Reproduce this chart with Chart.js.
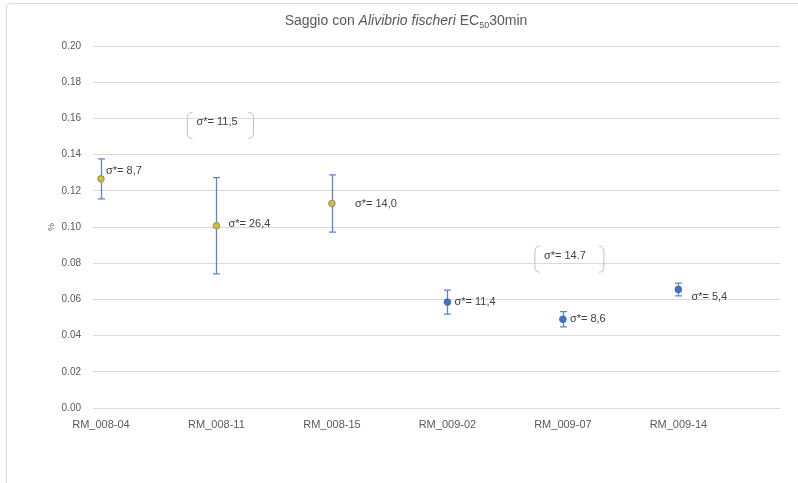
<!DOCTYPE html>
<html>
<head>
<meta charset="utf-8">
<script src="https://cdn.jsdelivr.net/npm/chart.js@4.4.1/dist/chart.umd.min.js"></script>
<style>
  html, body { margin: 0; padding: 0; background: #ffffff; }
  #wrap { position: relative; width: 798px; height: 483px; overflow: hidden; }
  #frame { position: absolute; left: 6px; top: 3px; width: 830px; height: 540px;
           border: 1px solid #d9d9d9; border-radius: 4px; box-sizing: border-box; }
  #c { position: absolute; left: 0; top: 0; }
</style>
</head>
<body>
<div id="wrap">
  <div id="frame"></div>
  <canvas id="c" width="798" height="483"></canvas>
</div>
<script>
// Samples tested
const categories = ['RM_008-04', 'RM_008-11', 'RM_008-15', 'RM_009-02', 'RM_009-07', 'RM_009-14'];
// Batch each sample belongs to (0 = RM_008, 1 = RM_009)
const batch = [0, 0, 0, 1, 1, 1];
// Mean EC50 (%) per sample
const meanEC50 = [0.1266, 0.1007, 0.113, 0.0585, 0.049, 0.0655];
// Coefficient of variation per sample (%), as printed beside each point
const cvPercent = [8.7, 26.4, 14.0, 11.4, 8.6, 5.4];
const cvText = ['8,7', '26,4', '14,0', '11,4', '8,6', '5,4'];
// Coefficient of variation per batch (%), as printed in the brackets
const batchCvText = ['11,5', '14.7'];
// Value axis ticks
const yTicks = [0, 0.02, 0.04, 0.06, 0.08, 0.10, 0.12, 0.14, 0.16, 0.18, 0.20];

// ---- styling / placement (not data) ----
const FONT = '"Liberation Sans", Arial, sans-serif';
const batchFill = ['#cdbd45', '#4472c4'];
const batchEdge = ['#8f8f55', '#3a66b8'];
const errColor = '#5d86c9';
// label offsets from each point (px)
const labelOffset = [[5, -8], [12, -2], [23, 0], [7, 0], [7, 0], [13, 8]];
// bracket callouts: anchored at a category index and value, offset in px
const bracketAnchor = [
  { cat: 1, y: 0.16,  dx: -29, dy: -6, w: 66, h: 26 },
  { cat: 4, y: 0.08,  dx: -28, dy: -17, w: 69, h: 26 }
];

const points = categories.map((c, i) => ({ x: i + 1, y: meanEC50[i] }));
const halfErr = meanEC50.map((m, i) => m * cvPercent[i] / 100);

const errorBars = {
  id: 'errorBars',
  beforeDatasetsDraw(chart) {
    const { ctx, scales: { x, y } } = chart;
    ctx.save();
    ctx.strokeStyle = errColor;
    ctx.lineWidth = 1.3;
    points.forEach((p, i) => {
      const px = Math.round(x.getPixelForValue(p.x)) + 0.5;
      const top = y.getPixelForValue(p.y + halfErr[i]);
      const bot = y.getPixelForValue(p.y - halfErr[i]);
      ctx.beginPath();
      ctx.moveTo(px, top); ctx.lineTo(px, bot);
      ctx.moveTo(px - 3.5, top); ctx.lineTo(px + 3.5, top);
      ctx.moveTo(px - 3.5, bot); ctx.lineTo(px + 3.5, bot);
      ctx.stroke();
    });
    ctx.restore();
  }
};

const annotations = {
  id: 'annotations',
  afterDatasetsDraw(chart) {
    const { ctx, scales: { x, y } } = chart;
    ctx.save();
    ctx.fillStyle = '#404040';
    ctx.font = '11px ' + FONT;
    ctx.textBaseline = 'middle';
    ctx.textAlign = 'left';
    points.forEach((p, i) => {
      const px = x.getPixelForValue(p.x) + labelOffset[i][0];
      const py = y.getPixelForValue(p.y) + labelOffset[i][1];
      ctx.fillText('\u03c3*= ' + cvText[i], px, py);
    });
    // bracketed batch values
    bracketAnchor.forEach((b, k) => {
      const left = x.getPixelForValue(b.cat + 1) + b.dx;
      const top = y.getPixelForValue(b.y) + b.dy;
      const r = 5;
      ctx.strokeStyle = '#b4c0d2';
      ctx.lineWidth = 1;
      ctx.beginPath();
      ctx.moveTo(left + r, top);
      ctx.quadraticCurveTo(left, top, left, top + r);
      ctx.lineTo(left, top + b.h - r);
      ctx.quadraticCurveTo(left, top + b.h, left + r, top + b.h);
      const right = left + b.w;
      ctx.moveTo(right - r, top);
      ctx.quadraticCurveTo(right, top, right, top + r);
      ctx.lineTo(right, top + b.h - r);
      ctx.quadraticCurveTo(right, top + b.h, right - r, top + b.h);
      ctx.stroke();
      ctx.fillStyle = '#404040';
      ctx.fillText('\u03c3*= ' + batchCvText[k], left + 9, top + 10);
    });
    ctx.restore();
  }
};

const titleParts = [
  { t: 'Saggio con ', italic: false },
  { t: 'Alivibrio fischeri', italic: true },
  { t: ' EC', italic: false },
  { t: '50', italic: false, sub: true },
  { t: '30min', italic: false }
];

const titleAndUnit = {
  id: 'titleAndUnit',
  afterDraw(chart) {
    const { ctx } = chart;
    ctx.save();
    const size = 14;
    const fontFor = (p) => (p.italic ? 'italic ' : '') + (p.sub ? 9 : size) + 'px ' + FONT;
    let total = 0;
    titleParts.forEach(p => { ctx.font = fontFor(p); total += ctx.measureText(p.t).width; });
    let cx = 406 - total / 2;
    const cy = 20;
    ctx.fillStyle = '#595959';
    ctx.textBaseline = 'alphabetic';
    ctx.textAlign = 'left';
    titleParts.forEach(p => {
      ctx.font = fontFor(p);
      ctx.fillText(p.t, cx, cy + 5 + (p.sub ? 3 : 0));
      cx += ctx.measureText(p.t).width;
    });
    // unit label on the value axis
    ctx.font = '9px ' + FONT;
    ctx.translate(52, chart.scales.y.getPixelForValue(0.10));
    ctx.rotate(-Math.PI / 2);
    ctx.textAlign = 'center';
    ctx.textBaseline = 'middle';
    ctx.fillText('%', 0, 0);
    ctx.restore();
  }
};

new Chart(document.getElementById('c'), {
  type: 'scatter',
  data: {
    datasets: [{
      label: 'EC50',
      data: points,
      pointRadius: 3.3,
      pointHoverRadius: 3.3,
      pointBorderWidth: 1,
      pointBackgroundColor: batch.map(b => batchFill[b]),
      pointBorderColor: batch.map(b => batchEdge[b]),
      showLine: false
    }]
  },
  options: {
    responsive: false,
    animation: false,
    events: [],
    layout: { padding: { top: 46, right: 18, left: 0, bottom: 0 } },
    plugins: { legend: { display: false }, title: { display: false }, tooltip: { enabled: false } },
    scales: {
      x: {
        type: 'linear',
        min: 0.931,
        max: 6.88,
        afterBuildTicks: (s) => { s.ticks = categories.map((c, i) => ({ value: i + 1 })); },
        afterFit: (s) => { s.height = 75; },
        grid: { display: false },
        border: { display: false },
        ticks: {
          autoSkip: false, maxRotation: 0, padding: 2,
          color: '#595959', font: { family: FONT, size: 11 },
          callback: (v) => categories[Math.round(v) - 1]
        }
      },
      y: {
        min: 0, max: 0.2,
        afterBuildTicks: (s) => { s.ticks = yTicks.map(v => ({ value: v })); },
        afterFit: (s) => { s.width = 93; },
        grid: { color: '#d9d9d9', lineWidth: 1, drawTicks: false },
        border: { display: false },
        ticks: {
          padding: 12, color: '#595959', font: { family: FONT, size: 10 },
          callback: (v) => v.toFixed(2)
        }
      }
    }
  },
  plugins: [errorBars, annotations, titleAndUnit]
});
</script>
</body>
</html>
